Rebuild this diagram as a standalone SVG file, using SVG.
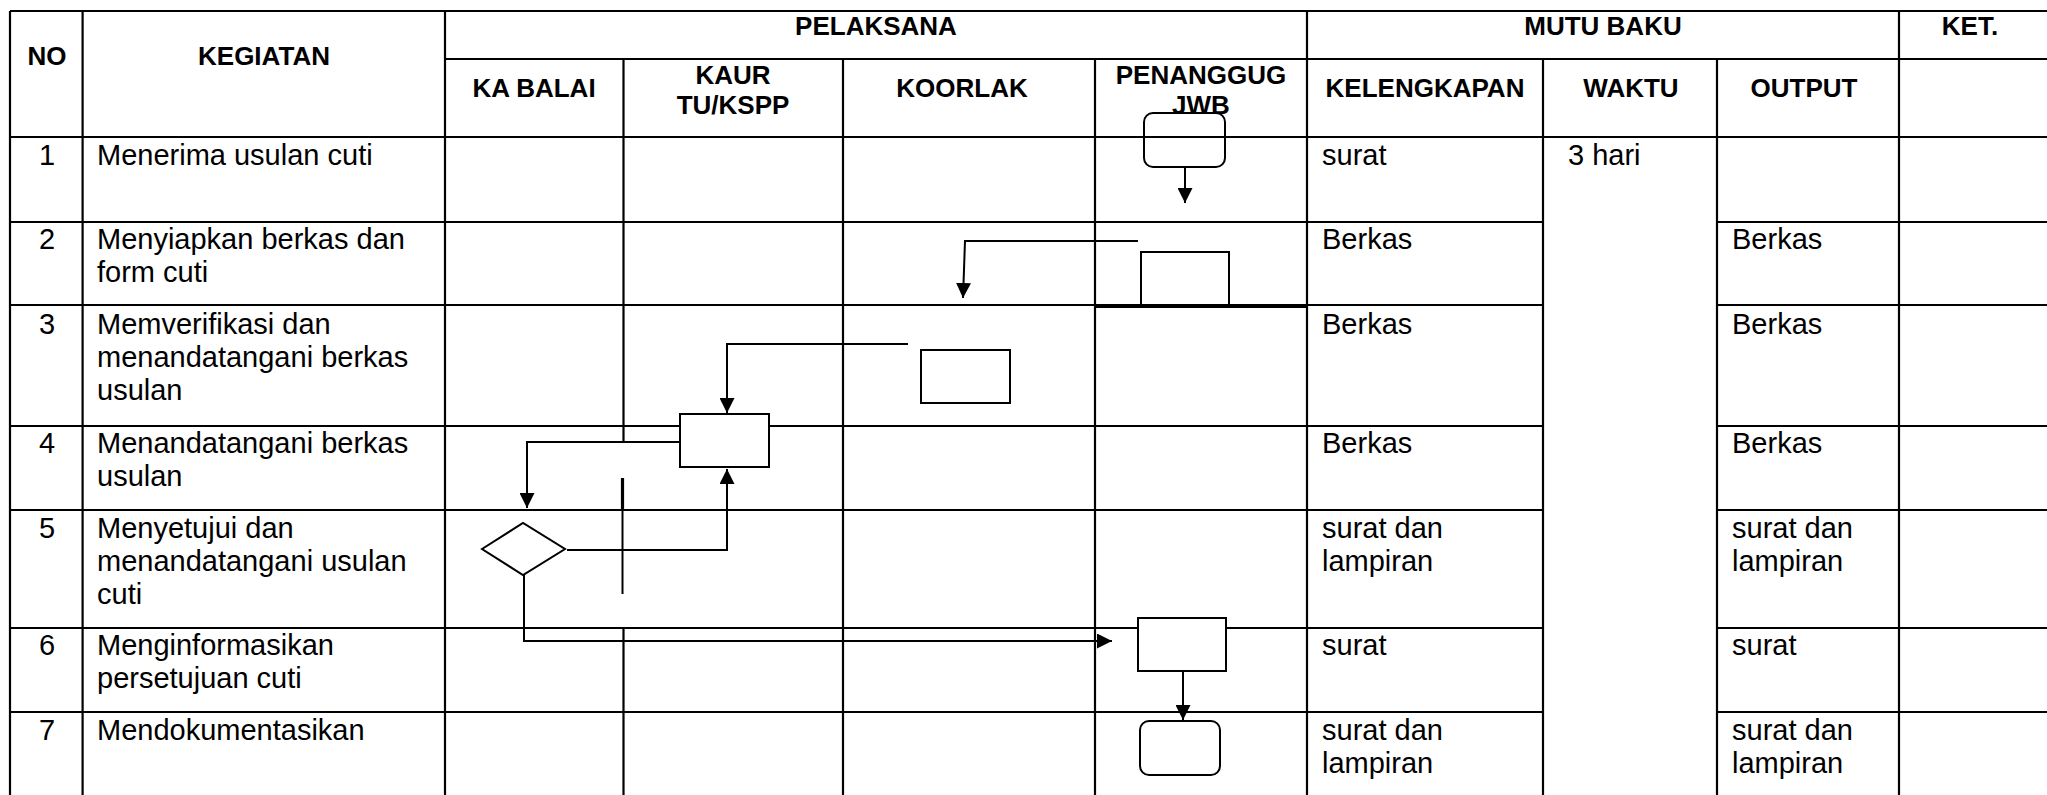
<svg xmlns="http://www.w3.org/2000/svg" width="2047" height="795" viewBox="0 0 2047 795">
<style>
.g{stroke:#000;stroke-width:2.2;fill:none}
.s{stroke:#000;stroke-width:2;fill:#fff}
.c{stroke:#000;stroke-width:2;fill:none}
.h{font-family:"Liberation Sans",Arial,sans-serif;font-weight:bold;font-size:26px;fill:#000;text-anchor:middle}
.t{font-family:"Liberation Sans",Arial,sans-serif;font-size:29px;fill:#000}
.n{font-family:"Liberation Sans",Arial,sans-serif;font-size:29px;fill:#000;text-anchor:middle}
</style>
<defs>
<marker id="ah" viewBox="0 0 10 10" refX="10" refY="5" markerWidth="15" markerHeight="15" markerUnits="userSpaceOnUse" orient="auto">
<path d="M0,0 L10,5 L0,10 z" fill="#000"/>
</marker>
</defs>
<rect width="2047" height="795" fill="#fff"/>
<g id="table">
<line class="g" x1="10" y1="11" x2="2047" y2="11"/>
<line class="g" x1="445" y1="59" x2="2047" y2="59"/>
<line class="g" x1="10" y1="137" x2="2047" y2="137"/>
<path class="g" d="M10,222H1543M1717,222H2047M10,305H1543M1717,305H2047M10,426H1543M1717,426H2047M10,510H1543M1717,510H2047M10,628H1543M1717,628H2047M10,712H1543M1717,712H2047"/>
<line x1="1095" y1="306" x2="1307" y2="306" stroke="#000" stroke-width="4"/>
<line class="g" x1="10" y1="11" x2="10" y2="795"/>
<line class="g" x1="82.6" y1="11" x2="82.6" y2="795"/>
<line class="g" x1="445" y1="11" x2="445" y2="795"/>
<path class="g" d="M623.5,59V442M623.5,628V795"/>
<line x1="622.5" y1="478" x2="622.5" y2="509" stroke="#000" stroke-width="3.2"/>
<line x1="622.5" y1="509" x2="622.5" y2="594" stroke="#000" stroke-width="2"/>
<line class="g" x1="843" y1="59" x2="843" y2="795"/>
<line class="g" x1="1095" y1="59" x2="1095" y2="795"/>
<line class="g" x1="1307" y1="11" x2="1307" y2="795"/>
<line class="g" x1="1543" y1="59" x2="1543" y2="795"/>
<line class="g" x1="1717" y1="59" x2="1717" y2="795"/>
<line class="g" x1="1899" y1="11" x2="1899" y2="795"/>
</g>
<g id="headers">
<text class="h" x="47" y="65">NO</text>
<text class="h" x="264" y="65">KEGIATAN</text>
<text class="h" x="876" y="35">PELAKSANA</text>
<text class="h" x="1603" y="35">MUTU BAKU</text>
<text class="h" x="1970" y="35">KET.</text>
<text class="h" x="534" y="97">KA BALAI</text>
<text class="h" x="733" y="84">KAUR</text>
<text class="h" x="733" y="114">TU/KSPP</text>
<text class="h" x="962" y="97">KOORLAK</text>
<text class="h" x="1201" y="84">PENANGGUG</text>
<text class="h" x="1201" y="114">JWB</text>
<text class="h" x="1425" y="97">KELENGKAPAN</text>
<text class="h" x="1631" y="97">WAKTU</text>
<text class="h" x="1804" y="97">OUTPUT</text>
</g>
<g id="rows">
<text class="n" x="47" y="165">1</text>
<text class="t" x="97" y="165">Menerima usulan cuti</text>
<text class="t" x="1322" y="165">surat</text>
<text class="t" x="1568" y="165">3 hari</text>
<text class="n" x="47" y="249">2</text>
<text class="t" x="97" y="249">Menyiapkan berkas dan</text>
<text class="t" x="97" y="282">form cuti</text>
<text class="t" x="1322" y="249">Berkas</text>
<text class="t" x="1732" y="249">Berkas</text>
<text class="n" x="47" y="334">3</text>
<text class="t" x="97" y="334">Memverifikasi dan</text>
<text class="t" x="97" y="367">menandatangani berkas</text>
<text class="t" x="97" y="400">usulan</text>
<text class="t" x="1322" y="334">Berkas</text>
<text class="t" x="1732" y="334">Berkas</text>
<text class="n" x="47" y="453">4</text>
<text class="t" x="97" y="453">Menandatangani berkas</text>
<text class="t" x="97" y="486">usulan</text>
<text class="t" x="1322" y="453">Berkas</text>
<text class="t" x="1732" y="453">Berkas</text>
<text class="n" x="47" y="538">5</text>
<text class="t" x="97" y="538">Menyetujui dan</text>
<text class="t" x="97" y="571">menandatangani usulan</text>
<text class="t" x="97" y="604">cuti</text>
<text class="t" x="1322" y="538">surat dan</text>
<text class="t" x="1322" y="571">lampiran</text>
<text class="t" x="1732" y="538">surat dan</text>
<text class="t" x="1732" y="571">lampiran</text>
<text class="n" x="47" y="655">6</text>
<text class="t" x="97" y="655">Menginformasikan</text>
<text class="t" x="97" y="688">persetujuan cuti</text>
<text class="t" x="1322" y="655">surat</text>
<text class="t" x="1732" y="655">surat</text>
<text class="n" x="47" y="740">7</text>
<text class="t" x="97" y="740">Mendokumentasikan</text>
<text class="t" x="1322" y="740">surat dan</text>
<text class="t" x="1322" y="773">lampiran</text>
<text class="t" x="1732" y="740">surat dan</text>
<text class="t" x="1732" y="773">lampiran</text>
</g>
<g id="node-start">
<rect class="s" x="1144" y="113" width="81" height="54" rx="9" fill-opacity="0"/>
</g>
<g id="node-prepare">
<path class="c" d="M1141,306V252H1229V306"/>
</g>
<g id="node-verify">
<rect class="s" x="921" y="350" width="89" height="53"/>
</g>
<g id="node-sign">
<rect class="s" x="680" y="414" width="89" height="53"/>
</g>
<g id="node-approve">
<polygon class="s" points="482,549 523,523 565,549 523,575"/>
</g>
<g id="node-inform">
<rect class="s" x="1138" y="618" width="88" height="53"/>
</g>
<g id="node-end">
<rect class="s" x="1140" y="721" width="80" height="54" rx="9"/>
</g>
<g id="connectors">
<path class="c" d="M1185,167V203" marker-end="url(#ah)"/>
<path class="c" d="M1138,241H965L963,298" marker-end="url(#ah)"/>
<path class="c" d="M908,344H727V413" marker-end="url(#ah)"/>
<path class="c" d="M680,442H527V508" marker-end="url(#ah)"/>
<path class="c" d="M567,550H727V469" marker-end="url(#ah)"/>
<path class="c" d="M524,575V641H1112" marker-end="url(#ah)"/>
<path class="c" d="M1183,671V720" marker-end="url(#ah)"/>
</g>
</svg>
